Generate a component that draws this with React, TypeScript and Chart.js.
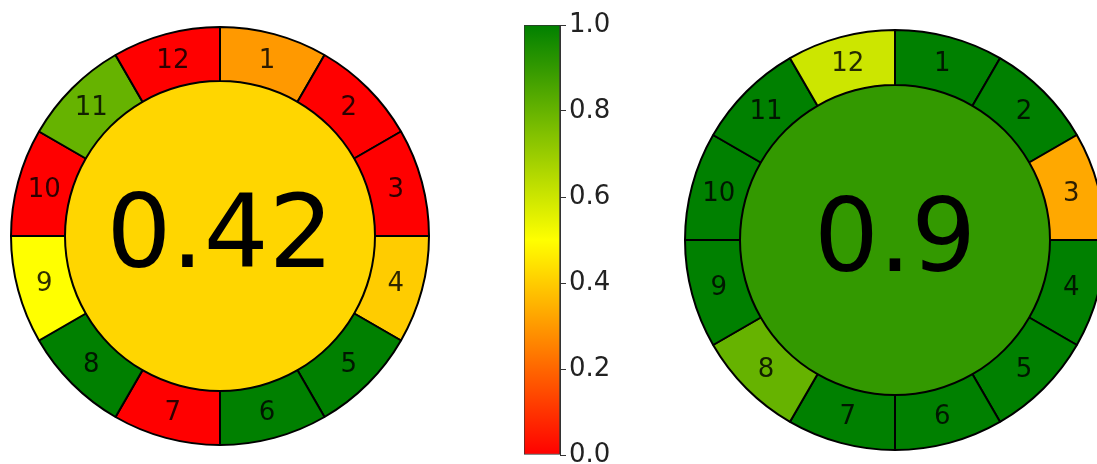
import React, { useEffect, useRef } from "react";
import { Chart, registerables } from "chart.js";

Chart.register(...registerables);

// ---- data ----
const segmentLabels = ["1", "2", "3", "4", "5", "6", "7", "8", "9", "10", "11", "12"];
const segmentWeights = [1, 1, 1, 1, 1, 1, 1, 1, 1, 1, 1, 1];
const leftScores = [0.3, 0, 0, 0.4, 1, 1, 0, 1, 0.5, 0, 0.8, 0];
const rightScores = [1, 1, 0.33, 1, 1, 1, 1, 0.8, 1, 1, 1, 0.6];
const leftTotal = 0.42;
const rightTotal = 0.9;
const colorbarRange = [0, 1];
const colorbarStep = 0.2;

// red -> yellow -> green colormap
function cmap(v: number): string {
  const c = Math.max(0, Math.min(1, v));
  let r: number, g: number;
  if (c <= 0.5) {
    const t = c / 0.5;
    r = 255;
    g = 255 * t;
  } else {
    const t = (c - 0.5) / 0.5;
    r = 255 * (1 - t);
    g = 255 - 127 * t;
  }
  return `rgb(${Math.round(r)},${Math.round(g)},0)`;
}

const agreeLabels = {
  id: "agreeLabels",
  afterDatasetsDraw(chart: any, _args: any, opts: any) {
    const ctx = chart.ctx;
    const meta = chart.getDatasetMeta(0);
    ctx.save();
    ctx.font = '26px "DejaVu Sans"';
    ctx.textAlign = "center";
    ctx.textBaseline = "middle";
    ctx.fillStyle = "rgba(0,0,0,0.82)";
    meta.data.forEach((el: any, i: number) => {
      const p = el.tooltipPosition();
      ctx.fillText(segmentLabels[i], p.x, p.y + 1);
    });
    const inner = chart.getDatasetMeta(1).data[0];
    ctx.font = '102px "DejaVu Sans"';
    ctx.textBaseline = "alphabetic";
    ctx.fillStyle = "#000";
    ctx.fillText(opts.text, inner.x, inner.y + 31);
    ctx.restore();
  },
};

function Agree(props: {
  scores: number[];
  total: number;
  size: number;
  left: number;
  top: number;
  ring: number;
  inner: number;
}) {
  const ref = useRef<HTMLCanvasElement | null>(null);
  useEffect(() => {
    if (!ref.current) return;
    const chart = new Chart(ref.current, {
      type: "doughnut",
      data: {
        labels: segmentLabels,
        datasets: [
          {
            data: segmentWeights,
            backgroundColor: props.scores.map(cmap),
            borderColor: "#000",
            borderWidth: 2,
            weight: props.ring,
          } as any,
          {
            data: [1],
            backgroundColor: [cmap(props.total)],
            borderWidth: 0,
            weight: props.inner,
          } as any,
        ],
      },
      options: {
        animation: false,
        responsive: false,
        events: [],
        cutout: 0,
        layout: { padding: 0 },
        plugins: {
          legend: { display: false },
          tooltip: { enabled: false },
          agreeLabels: { text: String(props.total) },
        } as any,
      },
      plugins: [agreeLabels],
    });
    return () => chart.destroy();
  }, []);
  return (
    <canvas
      ref={ref}
      width={props.size}
      height={props.size}
      style={{ position: "absolute", left: props.left, top: props.top, width: props.size, height: props.size }}
    />
  );
}

function Colorbar() {
  const ref = useRef<HTMLCanvasElement | null>(null);
  useEffect(() => {
    if (!ref.current) return;
    const chart = new Chart(ref.current, {
      type: "bar",
      data: {
        labels: [""],
        datasets: [
          {
            data: [[colorbarRange[0], colorbarRange[1]]] as any,
            backgroundColor: (c: any) => {
              const area = c.chart.chartArea;
              if (!area) return "red";
              const g = c.chart.ctx.createLinearGradient(0, area.bottom, 0, area.top);
              for (let i = 0; i <= 20; i++) g.addColorStop(i / 20, cmap(i / 20));
              return g;
            },
            borderColor: "#333",
            borderWidth: 1,
            borderSkipped: false,
            barPercentage: 1,
            categoryPercentage: 1,
          } as any,
        ],
      },
      options: {
        animation: false,
        responsive: false,
        events: [],
        layout: { padding: { left: 4, top: 25, bottom: 25, right: 0 } },
        plugins: { legend: { display: false }, tooltip: { enabled: false } },
        scales: {
          x: { display: false },
          y: {
            position: "right",
            min: colorbarRange[0],
            max: colorbarRange[1],
            ticks: {
              stepSize: colorbarStep,
              callback: (v: any) => Number(v).toFixed(1),
              font: { family: "DejaVu Sans", size: 26 },
              color: "#222",
              padding: 3,
            },
            grid: { drawOnChartArea: false, drawTicks: true, tickLength: 6, color: "#333" },
            border: { display: true, color: "#333" },
            afterFit: (s: any) => {
              s.width = 75;
            },
          } as any,
        },
      },
    });
    return () => chart.destroy();
  }, []);
  return (
    <canvas
      ref={ref}
      width={115}
      height={480}
      style={{ position: "absolute", left: 520, top: 0, width: 115, height: 480 }}
    />
  );
}

export default function App() {
  return (
    <div
      style={{
        position: "fixed",
        left: 0,
        top: 0,
        width: 1097,
        height: 464,
        overflow: "hidden",
        background: "#fff",
      }}
    >
      <Agree scores={leftScores} total={leftTotal} size={420} left={10} top={26} ring={54} inner={155} />
      <Colorbar />
      <Agree scores={rightScores} total={rightTotal} size={422} left={684} top={29} ring={55} inner={155} />
    </div>
  );
}
